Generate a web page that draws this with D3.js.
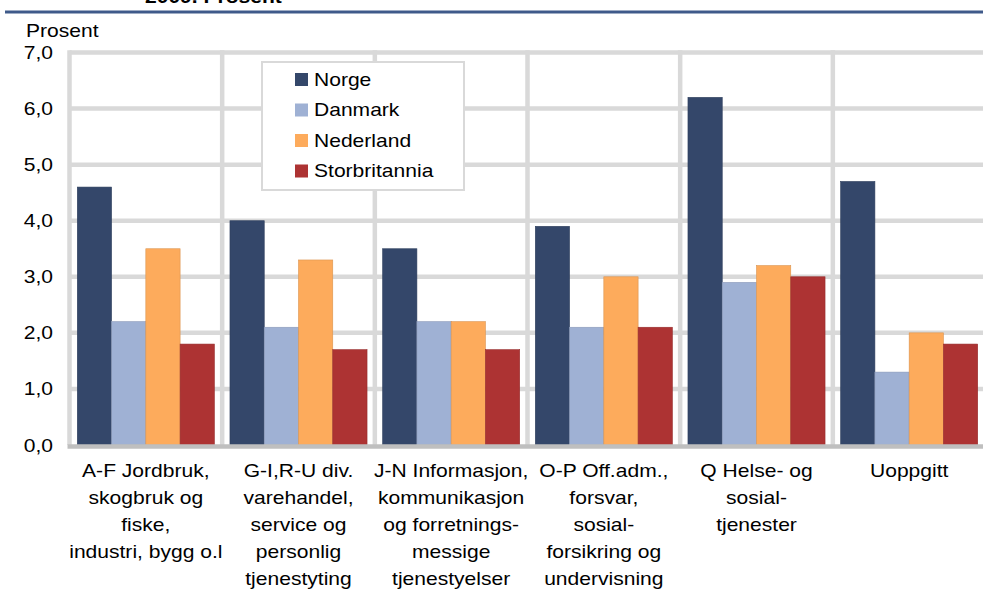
<!DOCTYPE html>
<html>
<head>
<meta charset="utf-8">
<script src="https://cdn.jsdelivr.net/npm/d3@7"></script>
<style>
  body { margin: 0; background: #fff; }
  text { font-family: "Liberation Sans", Arial, sans-serif; fill: #000; font-size: 18px; }
</style>
</head>
<body>
<svg id="chart" width="983" height="603"></svg>
<script>
// categories (each label split into its lines)
var categories = [
    ['A-F Jordbruk,', 'skogbruk og', 'fiske,', 'industri, bygg o.l'],
    ['G-I,R-U div.', 'varehandel,', 'service og', 'personlig', 'tjenestyting'],
    ['J-N Informasjon,', 'kommunikasjon', 'og forretnings-', 'messige', 'tjenestyelser'],
    ['O-P Off.adm.,', 'forsvar,', 'sosial-', 'forsikring og', 'undervisning'],
    ['Q Helse- og', 'sosial-', 'tjenester'],
    ['Uoppgitt']
];
var seriesNames = ['Norge', 'Danmark', 'Nederland', 'Storbritannia'];
var norge = [4.6, 4.0, 3.5, 3.9, 6.2, 4.7];
var danmark = [2.2, 2.1, 2.2, 2.1, 2.9, 1.3];
var nederland = [3.5, 3.3, 2.2, 3.0, 3.2, 2.0];
var storbritannia = [1.8, 1.7, 1.7, 2.1, 3.0, 1.8];
var yTicks = [0, 1, 2, 3, 4, 5, 6, 7];
var colors = ['#34476a', '#9fb1d4', '#fdab5c', '#ad3333'];

var values = [norge, danmark, nederland, storbritannia];
var svg = d3.select('#chart');

var plotLeft = 69.5, plotRight = 985.5, plotTop = 52.5, plotBottom = 445;
// the reference text is a little wider than Liberation Sans; stretch it
var sx = 1.17;
function place(x, yy) { return 'translate(' + x + ',' + yy + ') scale(' + sx + ',1)'; }

var x0 = d3.scaleBand()
        .domain(d3.range(categories.length))
        .range([plotLeft, plotRight]);
var inset = 7.8;
var x1 = d3.scaleBand()
        .domain(seriesNames)
        .range([inset, x0.bandwidth() - inset]);
var y = d3.scaleLinear().domain([0, 7]).range([plotBottom, plotTop]);

// gridlines
svg.append('g').selectAll('line')
    .data(yTicks.filter(d => d > 0))
    .enter().append('line')
        .attr('x1', plotLeft).attr('x2', plotRight)
        .attr('y1', d => y(d)).attr('y2', d => y(d))
        .attr('stroke', '#d9d9d9').attr('stroke-width', 4.5);

svg.append('g').selectAll('line')
    .data(d3.range(categories.length))
    .enter().append('line')
        .attr('x1', d => x0(d)).attr('x2', d => x0(d))
        .attr('y1', plotTop - 2.2).attr('y2', plotBottom)
        .attr('stroke', '#d9d9d9').attr('stroke-width', 4.5);

// bars
var groups = svg.append('g').selectAll('g')
    .data(d3.range(categories.length))
    .enter().append('g')
        .attr('transform', i => 'translate(' + x0(i) + ',0)');

groups.selectAll('rect')
    .data(i => seriesNames.map((s, k) => ({ s: s, k: k, v: values[k][i] })))
    .enter().append('rect')
        .attr('x', d => x1(d.s))
        .attr('width', x1.bandwidth())
        .attr('y', d => y(d.v))
        .attr('height', d => y(0) - y(d.v))
        .attr('fill', d => colors[d.k])
        .attr('stroke', d => d3.color(colors[d.k]).darker(0.4))
        .attr('stroke-width', 0.6);

// baseline
svg.append('line')
    .attr('x1', plotLeft - 2).attr('x2', plotRight)
    .attr('y1', plotBottom + 1.5).attr('y2', plotBottom + 1.5)
    .attr('stroke', '#bfbfbf').attr('stroke-width', 4.5);

// y tick labels
svg.append('g').selectAll('text')
    .data(yTicks)
    .enter().append('text')
        .attr('transform', d => place(53, y(d) + 6.5))
        .attr('text-anchor', 'end')
        .text(d => d.toFixed(1).replace('.', ','));

svg.append('text')
    .attr('transform', place(26, 37))
    .text('Prosent');

// category labels
var labels = svg.append('g').selectAll('g')
    .data(categories)
    .enter().append('g');
labels.selectAll('text')
    .data((d, i) => d.map(line => ({ line: line, i: i })))
    .enter().append('text')
        .attr('text-anchor', 'middle')
        .attr('transform', (d, j) => place(x0(d.i) + x0.bandwidth() / 2, 476.5 + j * 27))
        .text(d => d.line);

// legend
var legend = svg.append('g').attr('transform', 'translate(262,62)');
legend.append('rect')
    .attr('x', 0).attr('y', 0)
    .attr('width', 202).attr('height', 128)
    .attr('fill', '#fff')
    .attr('stroke', '#d9d9d9').attr('stroke-width', 2);
var items = legend.selectAll('g')
    .data(seriesNames)
    .enter().append('g')
        .attr('transform', (d, i) => 'translate(0,' + (17 + i * 30.5) + ')');
items.append('rect')
    .attr('x', 33).attr('y', -6)
    .attr('width', 13).attr('height', 13)
    .attr('fill', (d, i) => colors[i]);
items.append('text')
    .attr('transform', place(52, 6.5))
    .text(d => d);

// title (cut off at the top) and rule
svg.append('text')
    .attr('transform', place(145, 3))
    .style('font-weight', 'bold')
    .text('2009. Prosent');
svg.append('line')
    .attr('x1', 5).attr('x2', 983)
    .attr('y1', 12).attr('y2', 12)
    .attr('stroke', '#3f5a8a').attr('stroke-width', 3);
</script>
</body>
</html>
